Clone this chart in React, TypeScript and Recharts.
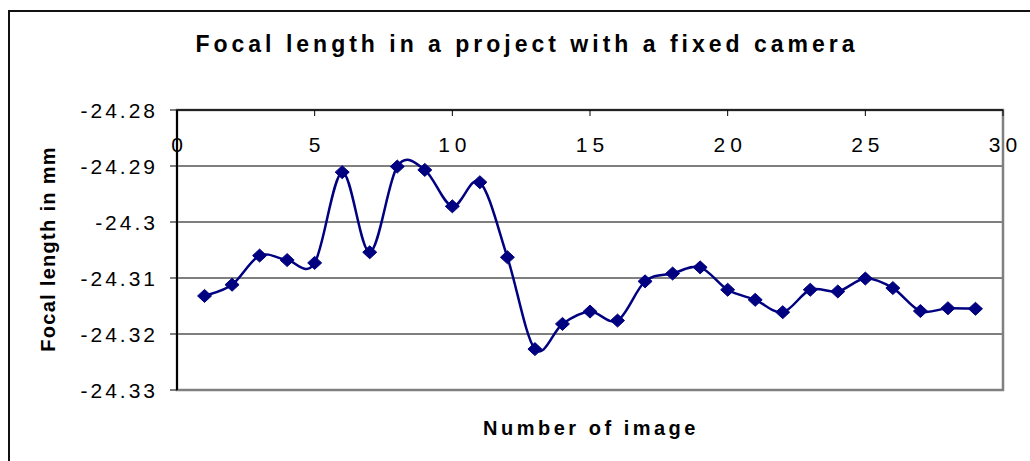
import React from 'react'
import { LineChart, Line, XAxis, YAxis, CartesianGrid, ReferenceArea } from 'recharts'

const imageNumbers = [1, 2, 3, 4, 5, 6, 7, 8, 9, 10, 11, 12, 13, 14, 15, 16, 17, 18, 19, 20, 21, 22, 23, 24, 25, 26, 27, 28, 29]
const focalLengths = [
  -24.3132, -24.3112, -24.306, -24.3068, -24.3073, -24.2911, -24.3054, -24.2901, -24.2907, -24.2972,
  -24.2929, -24.3063, -24.3227, -24.3182, -24.316, -24.3176, -24.3106, -24.3092, -24.3081, -24.3121,
  -24.3139, -24.3161, -24.3121, -24.3124, -24.3101, -24.3118, -24.3159, -24.3154, -24.3155,
]
const xTicks = [0, 5, 10, 15, 20, 25, 30]
const yTicks = [-24.33, -24.32, -24.31, -24.3, -24.29, -24.28]

const data = imageNumbers.map((n, i) => ({ image: n, focal: focalLengths[i] }))

const W = 1030
const H = 461
const PLOT_TOP = 110
const PLOT_LEFT = 177
const PLOT_RIGHT = 1003
const PLOT_BOTTOM = 390
const FONT = "Arial, 'Liberation Sans', sans-serif"
const NAVY = '#000080'

// Excel-style smoothed line (uniform Catmull-Rom as cubic beziers)
const excelSmooth = (context: any) => {
  let pts: number[][] = []
  return {
    areaStart() {},
    areaEnd() {},
    lineStart() { pts = [] },
    point(x: number, y: number) { pts.push([+x, +y]) },
    lineEnd() {
      if (!pts.length) return
      context.moveTo(pts[0][0], pts[0][1])
      for (let i = 0; i < pts.length - 1; i++) {
        const p0 = pts[i - 1] || pts[i]
        const p1 = pts[i]
        const p2 = pts[i + 1]
        const p3 = pts[i + 2] || p2
        context.bezierCurveTo(
          p1[0] + (p2[0] - p0[0]) / 6, p1[1] + (p2[1] - p0[1]) / 6,
          p2[0] - (p3[0] - p1[0]) / 6, p2[1] - (p3[1] - p1[1]) / 6,
          p2[0], p2[1],
        )
      }
    },
  }
}

const Diamond = (props: any) => {
  const { cx, cy, index } = props
  if (cx == null || cy == null) return null
  return (
    <polygon
      key={index}
      points={`${cx},${cy - 6.5} ${cx + 7},${cy} ${cx},${cy + 6.5} ${cx - 7},${cy}`}
      fill={NAVY}
      stroke={NAVY}
      strokeWidth={1}
    />
  )
}

const XTick = (props: any) => {
  const { x, payload } = props
  return (
    <text x={x + 2.5} y={PLOT_TOP + 34} textAnchor="middle" dominantBaseline="central"
      fontFamily={FONT} fontSize={21} letterSpacing={5} fill="#000">
      {payload.value}
    </text>
  )
}

const YTick = (props: any) => {
  const { x, y, payload } = props
  return (
    <text x={x} y={y} textAnchor="end" dominantBaseline="central"
      fontFamily={FONT} fontSize={21} letterSpacing={3} fill="#000">
      {String(payload.value)}
    </text>
  )
}

export default function App() {
  return (
    <div style={{ position: 'relative', width: W, height: H, overflow: 'hidden', background: '#fff' }}>
      <style>{'body{margin:0}'}</style>
      {/* chart frame */}
      <div style={{ position: 'absolute', left: 8, top: 10, width: W + 20, height: H + 20, border: '2px solid #111', boxSizing: 'border-box' }} />

      <div style={{ position: 'absolute', left: 527, top: 44, transform: 'translate(-50%, -50%)', whiteSpace: 'nowrap',
        fontFamily: FONT, fontWeight: 'bold', fontSize: 23, letterSpacing: 4, color: '#000' }}>
        Focal length in a project with a fixed camera
      </div>

      <div style={{ position: 'absolute', left: 48, top: 249, transform: 'translate(-50%, -50%) rotate(-90deg)', whiteSpace: 'nowrap',
        fontFamily: FONT, fontWeight: 'bold', fontSize: 20, letterSpacing: 1.3, color: '#000' }}>
        Focal length in mm
      </div>

      <div style={{ position: 'absolute', left: 591, top: 428, transform: 'translate(-50%, -50%)', whiteSpace: 'nowrap',
        fontFamily: FONT, fontWeight: 'bold', fontSize: 20, letterSpacing: 3.5, color: '#000' }}>
        Number of image
      </div>

      <div style={{ position: 'absolute', left: 0, top: 0 }}>
        <LineChart
          width={W}
          height={H}
          data={data}
          margin={{ top: PLOT_TOP, left: PLOT_LEFT - 80, right: W - PLOT_RIGHT, bottom: H - PLOT_BOTTOM }}
        >
          <CartesianGrid vertical={false} stroke="#000" strokeWidth={1} />
          <ReferenceArea x1={0} x2={30} y1={-24.33} y2={-24.28} fill="none" stroke="#808080" strokeWidth={2.5} ifOverflow="extendDomain" />
          <XAxis
            dataKey="image"
            type="number"
            orientation="top"
            mirror
            domain={[0, 30]}
            ticks={xTicks}
            interval={0}
            allowDataOverflow
            axisLine={{ stroke: '#222', strokeWidth: 2 }}
            tickLine={{ stroke: '#000', strokeWidth: 1 }}
            tickSize={6}
            tick={<XTick />}
          />
          <YAxis
            type="number"
            domain={[-24.33, -24.28]}
            ticks={yTicks}
            interval={0}
            allowDataOverflow
            width={80}
            axisLine={{ stroke: '#000', strokeWidth: 2 }}
            tickLine={{ stroke: '#000', strokeWidth: 1 }}
            tickSize={7}
            tickMargin={12}
            tick={<YTick />}
          />
          <Line
            dataKey="focal"
            type={excelSmooth as any}
            stroke={NAVY}
            strokeWidth={2.5}
            dot={<Diamond />}
            activeDot={false}
            isAnimationActive={false}
          />
        </LineChart>
      </div>
    </div>
  )
}
